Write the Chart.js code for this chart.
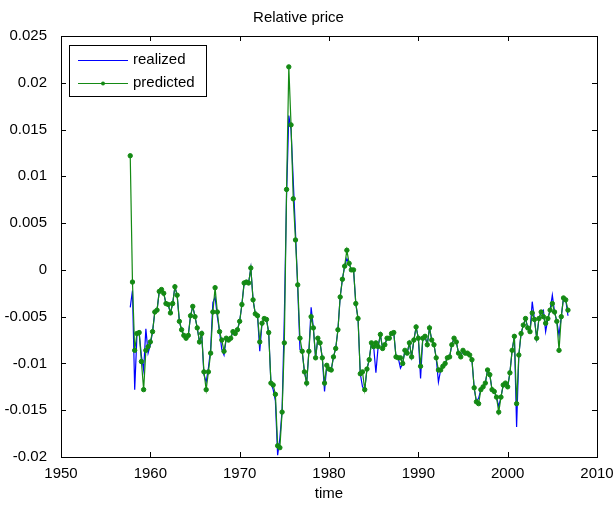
<!DOCTYPE html>
<html>
<head>
<meta charset="utf-8">
<title>Relative price</title>
<script src="https://cdn.jsdelivr.net/npm/chart.js@4.4.1/dist/chart.umd.min.js"></script>
<style>
  html, body { margin: 0; padding: 0; background: #fff; }
</style>
</head>
<body>
<canvas id="price-chart" width="616" height="506"></canvas>
<script>
// quarterly observations, first one is 1957 Q4
const firstQuarter = 1957.75;
const quarterStep = 0.25;

const realizedValues = [
    -0.0040, -0.0022, -0.0128, -0.0070, -0.0067, -0.0092, -0.0107, -0.0063, -0.0089, -0.0080,
    -0.0066, -0.0045, -0.0043, -0.0023, -0.0021, -0.0025, -0.0036, -0.0037, -0.0046, -0.0036,
    -0.0018, -0.0027, -0.0055, -0.0064, -0.0070, -0.0073, -0.0070, -0.0049, -0.0039, -0.0050,
    -0.0062, -0.0077, -0.0068, -0.0112, -0.0120, -0.0105, -0.0085, -0.0035, -0.0029, -0.0050,
    -0.0066, -0.0085, -0.0091, -0.0073, -0.0075, -0.0073, -0.0066, -0.0068, -0.0064, -0.0055,
    -0.0037, -0.0014, -0.0013, -0.0014, 0.0002, -0.0032, -0.0047, -0.0049, -0.0087, -0.0057,
    -0.0052, -0.0053, -0.0067, -0.0121, -0.0128, -0.0140, -0.0198, -0.0180, -0.0150, -0.0050,
    0.0080, 0.0165, 0.0150, 0.0095, 0.0040, -0.0020, -0.0085, -0.0087, -0.0109, -0.0121,
    -0.0087, -0.0040, -0.0062, -0.0094, -0.0073, -0.0078, -0.0094, -0.0130, -0.0102, -0.0106,
    -0.0107, -0.0093, -0.0084, -0.0064, -0.0029, -0.0010, 0.0004, 0.0012, 0.0007, 0.0000,
    0.0000, -0.0036, -0.0052, -0.0111, -0.0125, -0.0128, -0.0106, -0.0096, -0.0078, -0.0082,
    -0.0110, -0.0082, -0.0069, -0.0084, -0.0080, -0.0073, -0.0073, -0.0068, -0.0067, -0.0093,
    -0.0094, -0.0105, -0.0100, -0.0086, -0.0089, -0.0078, -0.0093, -0.0075, -0.0061, -0.0073,
    -0.0116, -0.0073, -0.0071, -0.0080, -0.0062, -0.0075, -0.0080, -0.0094, -0.0120, -0.0107,
    -0.0103, -0.0100, -0.0094, -0.0093, -0.0080, -0.0073, -0.0077, -0.0089, -0.0093, -0.0086,
    -0.0089, -0.0089, -0.0091, -0.0096, -0.0126, -0.0141, -0.0137, -0.0128, -0.0125, -0.0121,
    -0.0107, -0.0112, -0.0128, -0.0130, -0.0136, -0.0146, -0.0136, -0.0123, -0.0121, -0.0125,
    -0.0110, -0.0086, -0.0071, -0.0168, -0.0091, -0.0068, -0.0059, -0.0052, -0.0062, -0.0066,
    -0.0034, -0.0053, -0.0073, -0.0052, -0.0045, -0.0043, -0.0066, -0.0052, -0.0043, -0.0027,
    -0.0045, -0.0055, -0.0070, -0.0050, -0.0030, -0.0032, -0.0049
];

const predictedValues = [
    0.0122, -0.0013, -0.0086, -0.0068, -0.0067, -0.0098, -0.0128, -0.0086, -0.0082, -0.0077,
    -0.0066, -0.0045, -0.0043, -0.0023, -0.0021, -0.0025, -0.0036, -0.0037, -0.0046, -0.0036,
    -0.0018, -0.0027, -0.0055, -0.0064, -0.0070, -0.0073, -0.0070, -0.0049, -0.0039, -0.0050,
    -0.0062, -0.0077, -0.0068, -0.0109, -0.0128, -0.0109, -0.0089, -0.0045, -0.0019, -0.0045,
    -0.0066, -0.0075, -0.0087, -0.0073, -0.0075, -0.0073, -0.0066, -0.0068, -0.0064, -0.0055,
    -0.0037, -0.0014, -0.0013, -0.0014, 0.0002, -0.0032, -0.0047, -0.0049, -0.0077, -0.0057,
    -0.0052, -0.0053, -0.0067, -0.0121, -0.0123, -0.0133, -0.0188, -0.0190, -0.0152, -0.0078,
    0.0086, 0.0217, 0.0155, 0.0076, 0.0032, -0.0016, -0.0073, -0.0087, -0.0109, -0.0121,
    -0.0087, -0.0050, -0.0062, -0.0094, -0.0073, -0.0078, -0.0094, -0.0121, -0.0102, -0.0106,
    -0.0107, -0.0093, -0.0084, -0.0064, -0.0029, -0.0010, 0.0004, 0.0021, 0.0007, 0.0000,
    0.0000, -0.0036, -0.0052, -0.0111, -0.0109, -0.0128, -0.0106, -0.0096, -0.0078, -0.0082,
    -0.0078, -0.0082, -0.0069, -0.0084, -0.0080, -0.0073, -0.0073, -0.0068, -0.0067, -0.0093,
    -0.0094, -0.0094, -0.0100, -0.0086, -0.0089, -0.0078, -0.0093, -0.0075, -0.0061, -0.0073,
    -0.0103, -0.0073, -0.0071, -0.0080, -0.0062, -0.0075, -0.0080, -0.0094, -0.0107, -0.0107,
    -0.0103, -0.0100, -0.0094, -0.0093, -0.0080, -0.0073, -0.0077, -0.0089, -0.0093, -0.0086,
    -0.0089, -0.0089, -0.0091, -0.0096, -0.0126, -0.0141, -0.0143, -0.0128, -0.0125, -0.0121,
    -0.0107, -0.0112, -0.0128, -0.0130, -0.0136, -0.0152, -0.0136, -0.0123, -0.0121, -0.0125,
    -0.0110, -0.0086, -0.0071, -0.0143, -0.0091, -0.0068, -0.0059, -0.0052, -0.0062, -0.0066,
    -0.0046, -0.0053, -0.0073, -0.0052, -0.0045, -0.0050, -0.0057, -0.0052, -0.0043, -0.0036,
    -0.0045, -0.0055, -0.0086, -0.0050, -0.0030, -0.0032, -0.0043
];

const yearTicks = [1950, 1960, 1970, 1980, 1990, 2000, 2010];
const priceTicks = [-0.02, -0.015, -0.01, -0.005, 0, 0.005, 0.01, 0.015, 0.02, 0.025];
const priceTickLabels = ['-0.02', '-0.015', '-0.01', '-0.005', '0', '0.005', '0.01', '0.015', '0.02', '0.025'];

const FONT = '"Liberation Sans", Arial, Helvetica, sans-serif';

function toPoints(values) {
    return values.map((v, i) => ({ x: firstQuarter + i * quarterStep, y: v }));
}

// MATLAB style box with inward ticks on all four sides
const axesBox = {
    id: 'axesBox',
    afterDatasetsDraw(chart) {
        const { ctx, chartArea: a, scales } = chart;
        const len = 5;
        ctx.save();
        ctx.strokeStyle = '#000';
        ctx.lineWidth = 1;
        ctx.beginPath();
        scales.x.ticks.forEach(t => {
            const px = Math.round(scales.x.getPixelForValue(t.value)) + 0.5;
            ctx.moveTo(px, a.bottom); ctx.lineTo(px, a.bottom - len);
            ctx.moveTo(px, a.top); ctx.lineTo(px, a.top + len);
        });
        scales.y.ticks.forEach(t => {
            const py = Math.round(scales.y.getPixelForValue(t.value)) + 0.5;
            ctx.moveTo(a.left, py); ctx.lineTo(a.left + len, py);
            ctx.moveTo(a.right, py); ctx.lineTo(a.right - len, py);
        });
        ctx.stroke();
        ctx.strokeRect(a.left + 0.5, a.top + 0.5, a.right - a.left, a.bottom - a.top);
        ctx.restore();
    }
};

// legend drawn as a boxed inset in the top left corner
const boxLegend = {
    id: 'boxLegend',
    afterDraw(chart) {
        const { ctx, chartArea: a } = chart;
        const x0 = a.left + 8, y0 = a.top + 9, w = 137, h = 51;
        ctx.save();
        ctx.fillStyle = '#fff';
        ctx.fillRect(x0, y0, w, h);
        ctx.strokeStyle = '#000';
        ctx.lineWidth = 1;
        ctx.strokeRect(x0 + 0.5, y0 + 0.5, w, h);
        ctx.font = '15px ' + FONT;
        ctx.textBaseline = 'middle';
        chart.data.datasets.forEach((ds, i) => {
            const ly = y0 + 15 + i * 23;
            ctx.strokeStyle = ds.borderColor;
            ctx.lineWidth = 1;
            ctx.beginPath();
            ctx.moveTo(x0 + 9, ly + 0.5);
            ctx.lineTo(x0 + 59, ly + 0.5);
            ctx.stroke();
            if (ds.pointRadius > 0) {
                ctx.fillStyle = ds.pointBackgroundColor;
                ctx.beginPath();
                ctx.arc(x0 + 34, ly + 0.5, 2, 0, 2 * Math.PI);
                ctx.fill();
            }
            ctx.fillStyle = '#000';
            ctx.fillText(ds.label, x0 + 64, ly);
        });
        ctx.restore();
    }
};

Chart.defaults.font.family = FONT;
Chart.defaults.font.size = 15;
Chart.defaults.color = '#000';

new Chart(document.getElementById('price-chart'), {
    type: 'line',
    data: {
        datasets: [
            {
                label: 'realized',
                data: toPoints(realizedValues),
                borderColor: '#0000ff',
                borderWidth: 1.2,
                pointRadius: 0,
                tension: 0,
                order: 1
            },
            {
                label: 'predicted',
                data: toPoints(predictedValues),
                borderColor: '#148a14',
                backgroundColor: '#148a14',
                pointBackgroundColor: '#148a14',
                pointBorderColor: '#148a14',
                borderWidth: 1.2,
                pointRadius: 2.2,
                pointBorderWidth: 1,
                tension: 0,
                order: 0
            }
        ]
    },
    options: {
        responsive: false,
        animation: false,
        events: [],
        layout: { padding: { left: 0, right: 19, top: 0, bottom: 0 } },
        plugins: {
            legend: { display: false },
            tooltip: { enabled: false },
            title: {
                display: true,
                text: 'Relative price',
                font: { size: 15, weight: 'normal' },
                padding: { top: 9, bottom: 9 }
            }
        },
        scales: {
            x: {
                type: 'linear',
                min: 1950,
                max: 2010,
                grid: { display: false },
                border: { display: false },
                afterBuildTicks: s => { s.ticks = yearTicks.map(v => ({ value: v })); },
                afterFit: s => { s.height = 49; },
                ticks: {
                    padding: 0,
                    maxRotation: 0,
                    callback: v => String(v)
                },
                title: {
                    display: true,
                    text: 'time',
                    font: { size: 15 },
                    padding: { top: 0, bottom: 3 }
                }
            },
            y: {
                type: 'linear',
                min: -0.02,
                max: 0.025,
                grid: { display: false },
                border: { display: false },
                afterBuildTicks: s => { s.ticks = priceTicks.map(v => ({ value: v })); },
                afterFit: s => { s.width = 61; },
                ticks: {
                    padding: 6,
                    callback: (v, i) => priceTickLabels[i]
                }
            }
        }
    },
    plugins: [axesBox, boxLegend]
});
</script>
</body>
</html>
